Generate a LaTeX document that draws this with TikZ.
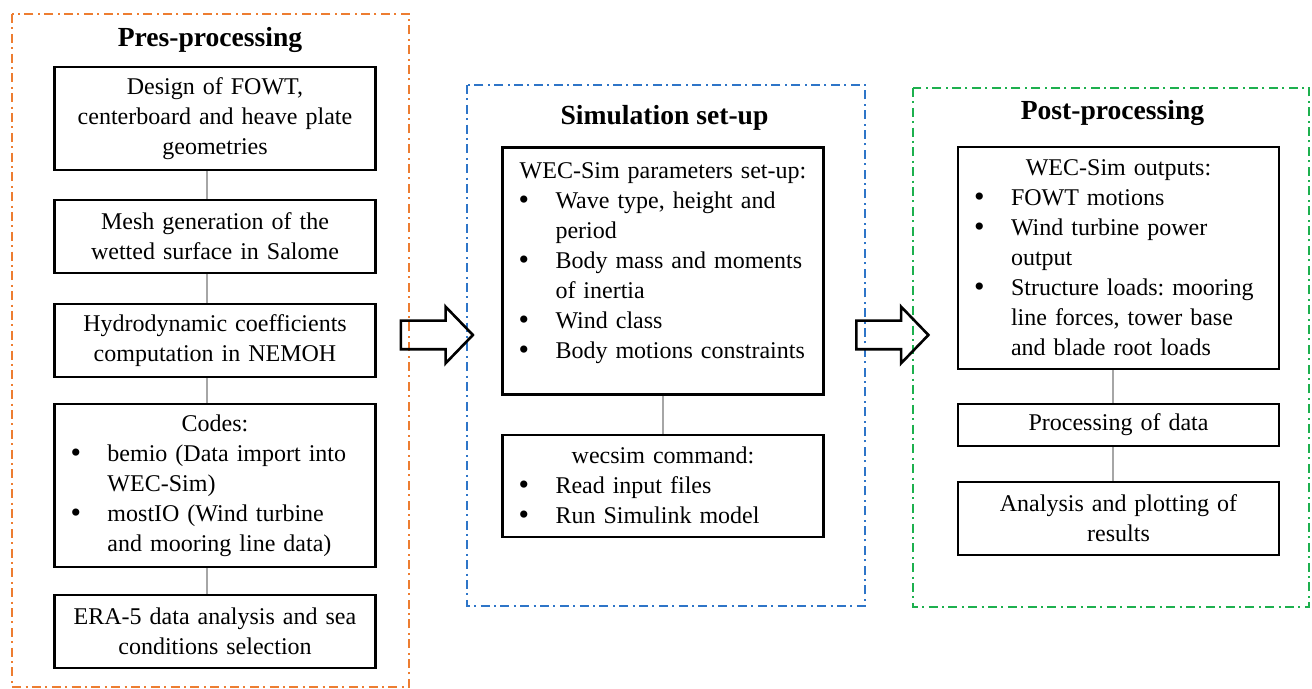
\documentclass[tikz,border=0pt]{standalone}
\usepackage{fontspec}
\setmainfont{Liberation Serif}
\usetikzlibrary{shapes.arrows}
\definecolor{Orange}{HTML}{ED7D31}
\definecolor{Blue}{HTML}{2E75C8}
\definecolor{Green}{HTML}{1DB04E}
\definecolor{Link}{HTML}{A6A6A6}
\frenchspacing
\newcommand{\bitem}[1]{\par\hangindent=24.5pt\hangafter=1\noindent\makebox[24.5pt][l]{\hspace{6pt}\raisebox{-0.4pt}{\fontsize{15}{15}\selectfont\textbullet}}#1\par}

\begin{document}
\begin{tikzpicture}[x=0.5pt,y=-0.5pt,
    frame/.style={line width=1pt,dash pattern=on 4.5pt off 2.2pt on 1pt off 2.2pt},
    box/.style={draw,line width=1.4pt,minimum width=160.5pt,text width=156.5pt,inner xsep=2pt,align=center,font=\fontsize{12}{15}\selectfont},
    lbox/.style={box,align=left},
    head/.style={font=\fontsize{13.8}{16}\selectfont\bfseries,anchor=base},
    link/.style={line width=1pt,Link},
    bigarrow/.style={draw,line width=1.3pt,single arrow,single arrow head extend=7pt,single arrow tip angle=92,minimum height=36pt,inner xsep=0pt,inner ysep=6.5pt}]
    \useasboundingbox (0,0) rectangle (1312,689);
    \draw[frame,Orange] (12,14) rectangle (409,687);
    \draw[frame,Blue] (467,85) rectangle (865,606);
    \draw[frame,Green] (913,88) rectangle (1309,607);

    \node[head] (tpre) at (210,47) {Pres-processing};
    \node[head] (tsim) at (664.5,125) {Simulation set-up};
    \node[head] (tpost) at (1112.5,120) {Post-processing};

    \node[box,minimum height=51.5pt] (b1) at (215,118.5) {Design of FOWT,\\centerboard and heave plate\\geometries};
    \node[box,minimum height=36.5pt] (b2) at (215,236.5) {Mesh generation of the\\wetted surface in Salome};
    \node[box,minimum height=36.5pt] (b3) at (215,340.5) {Hydrodynamic coefficients\\computation in NEMOH};
    \node[lbox,minimum height=81.5pt] (b4) at (215,485.5) {\centerline{Codes:}
      \bitem{bemio (Data import into\newline WEC-Sim)}
      \bitem{mostIO (Wind turbine\newline and mooring line data)}};
    \node[box,minimum height=36.5pt] (b5) at (215,631.5) {ERA-5 data analysis and sea\\conditions selection};

    \node[lbox,anchor=north,inner ysep=0pt,text height=15.5pt,text depth=108pt] (a1) at (663,146) {\centerline{WEC-Sim parameters set-up:}
      \bitem{Wave type, height and\newline period}
      \bitem{Body mass and moments\newline of inertia}
      \bitem{Wind class}
      \bitem{Body motions constraints}};
    \node[lbox,minimum height=51pt] (a2) at (663,486) {\centerline{wecsim command:}
      \bitem{Read input files}
      \bitem{Run Simulink model}};

    \node[lbox,minimum height=111pt] (c1) at (1118.5,258) {\centerline{WEC-Sim outputs:}
      \bitem{FOWT motions}
      \bitem{Wind turbine power\newline output}
      \bitem{Structure loads: mooring\newline line forces, tower base\newline and blade root loads}};
    \node[box,minimum height=21pt] (c2) at (1118.5,425) {Processing of data};
    \node[box,minimum height=36.5pt] (c3) at (1118.5,518.5) {Analysis and plotting of\\results};

    \foreach \u/\v in {b1/b2,b2/b3,b3/b4,b4/b5}
      \draw[link] ([xshift=-4pt]\u.south) -- ([xshift=-4pt]\v.north);
    \draw[link] (a1.south) -- (a2.north);
    \foreach \u/\v in {c1/c2,c2/c3}
      \draw[link] ([xshift=-3pt]\u.south) -- ([xshift=-3pt]\v.north);

    \node[bigarrow] (arr1) at (430,335) {};
    \node[bigarrow] (arr2) at (885.5,335) {};
  \end{tikzpicture}
\end{document}
